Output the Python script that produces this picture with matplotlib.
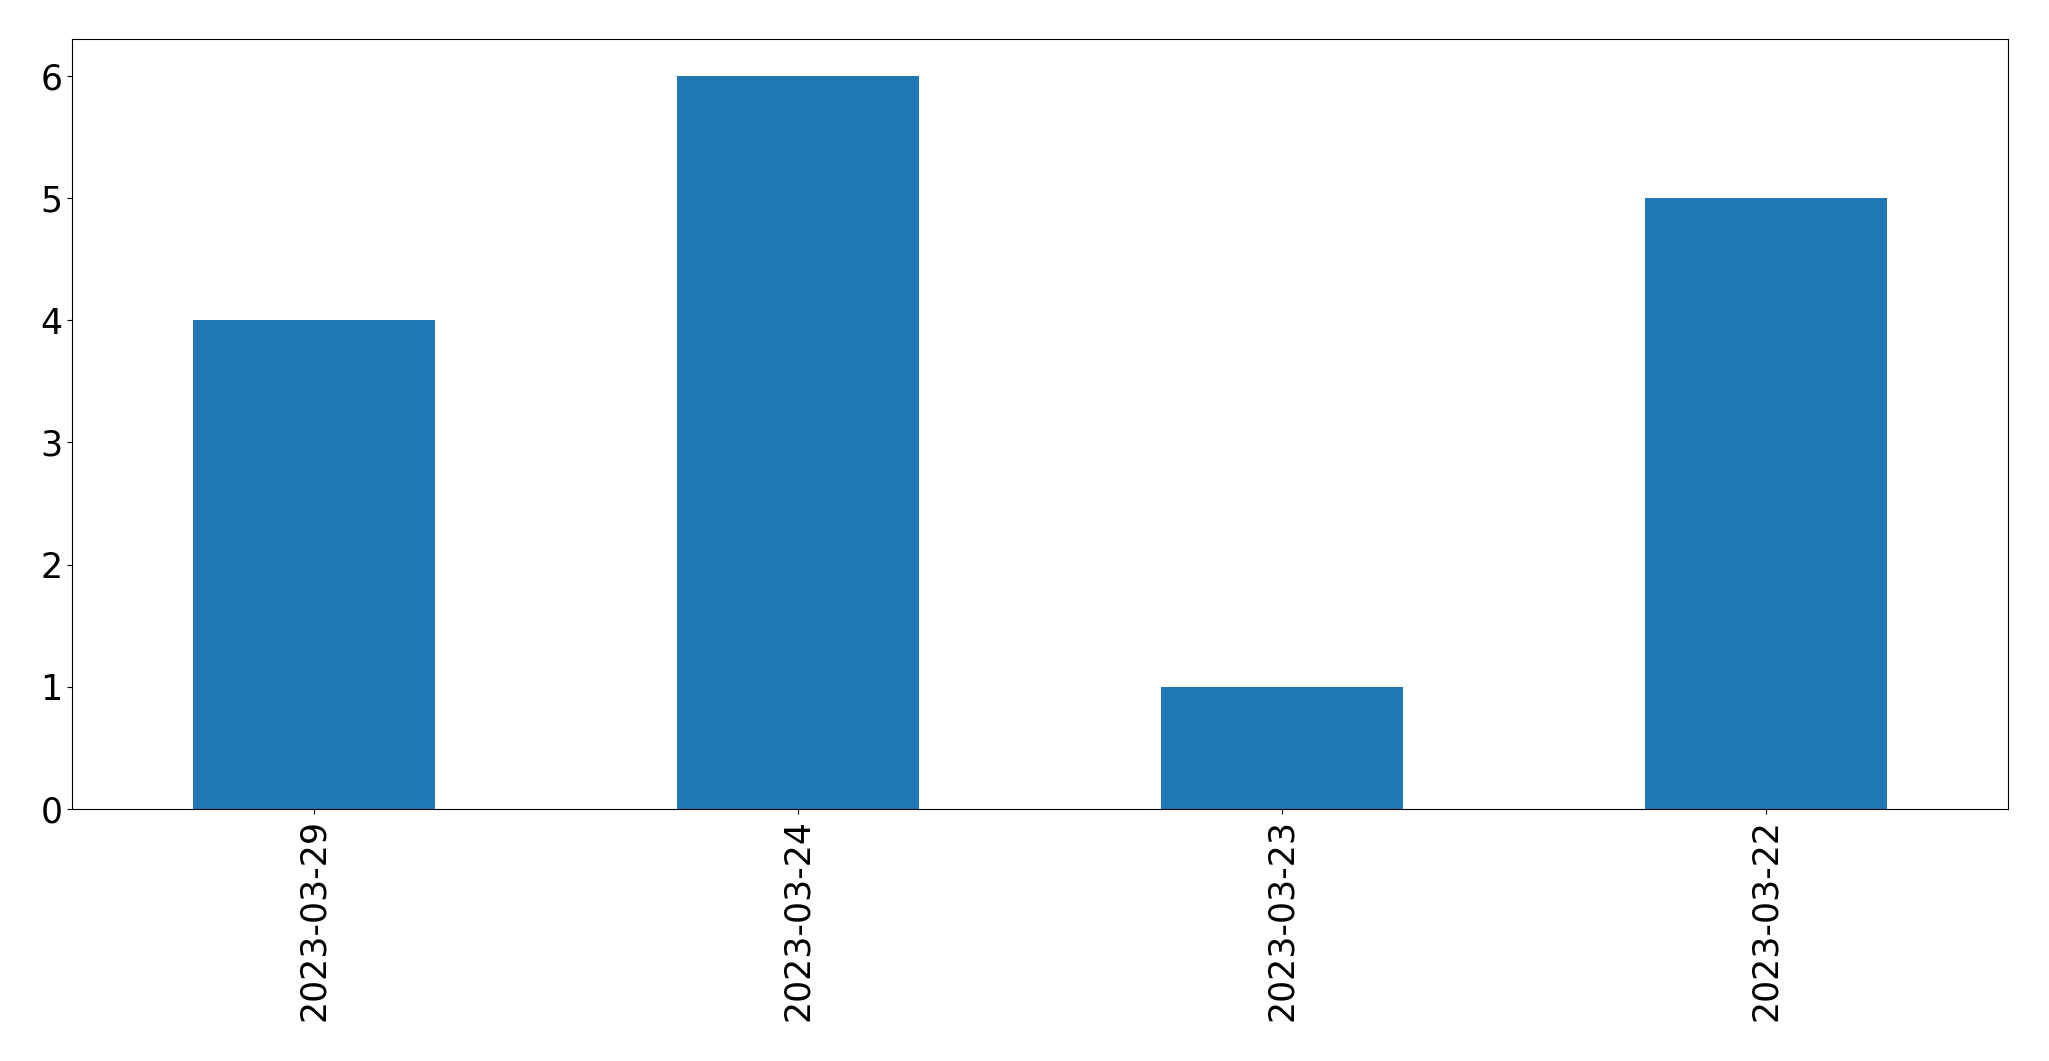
import numpy as np
import matplotlib.pyplot as plt

# counts per date, in the order shown
dates = ["2023-03-29", "2023-03-24", "2023-03-23", "2023-03-22"]
counts = [4, 6, 1, 5]

W, H, DPI = 2049, 1061, 100
fig = plt.figure(figsize=(W / DPI, H / DPI), dpi=DPI)
ax = fig.add_axes([72 / W, 1 - 809 / H, (2008 - 72) / W, (809 - 39) / H])

x = np.arange(len(dates))
ax.bar(x, counts, width=0.5, color="#1f77b4")
ax.set_xlim(-0.5, len(dates) - 0.5)
ax.set_ylim(0, max(counts) * 1.05)
ax.set_xticks(x)
ax.set_xticklabels(dates, rotation=90)
ax.tick_params(axis="both", labelsize=25)

fig.savefig("out.png", dpi=DPI)
